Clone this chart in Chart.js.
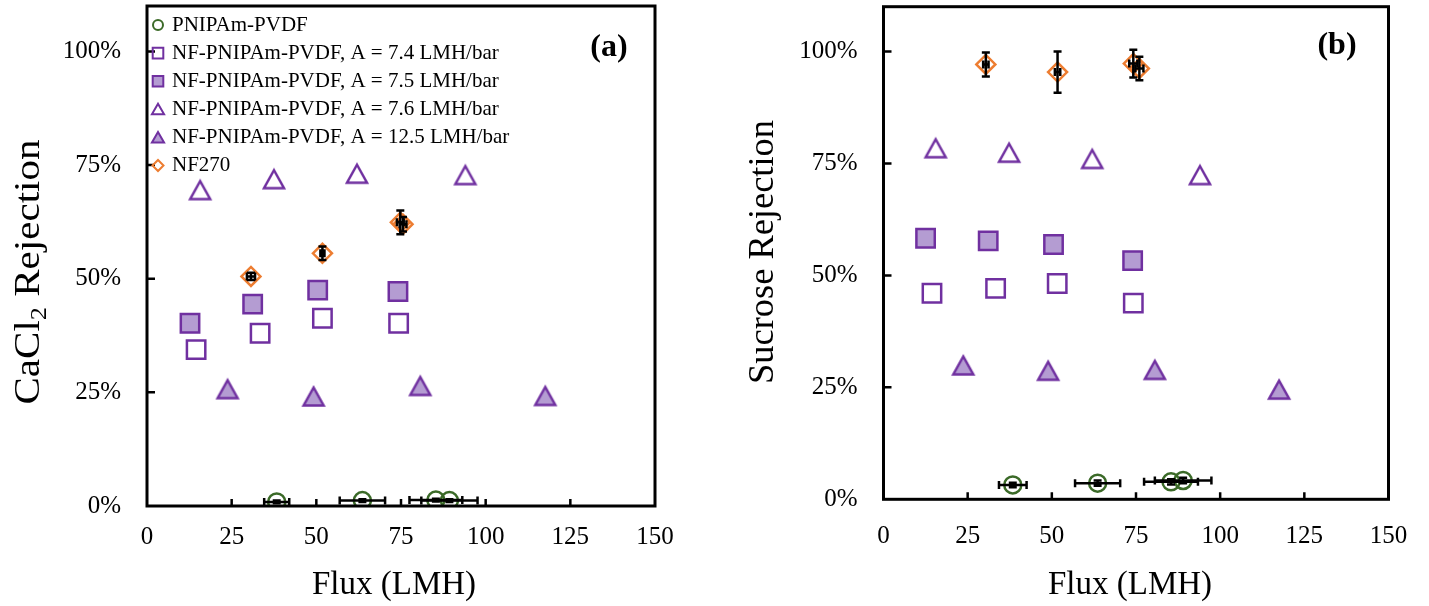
<!DOCTYPE html>
<html>
<head>
<meta charset="utf-8">
<script src="https://cdn.jsdelivr.net/npm/chart.js@4/dist/chart.umd.min.js"></script>
<style>
  html, body { margin: 0; padding: 0; background: #fff; }
  #wrap { position: relative; width: 1429px; height: 606px; overflow: hidden; background: #fff; }
  .pane { position: absolute; top: 0; }
  #pa { left: 0; }
  #pb { left: 710px; }
  canvas { display: block; }
</style>
</head>
<body>
<div id="wrap">
  <div class="pane" id="pa"><canvas id="ca" width="700" height="606"></canvas></div>
  <div class="pane" id="pb"><canvas id="cb" width="719" height="606"></canvas></div>
</div>
<script>
const FONT = "'Liberation Serif', 'Times New Roman', serif";
const GREEN = '#3b6a28';
const PURPLE = '#7030a0';
const LILAC = '#b49cd2';
const ORANGE = '#ed7d31';
const NONE = 'rgba(0,0,0,0)';

// Axis ticks
const fluxTicks = [0, 25, 50, 75, 100, 125, 150];
const rejectionTicks = [0, 25, 50, 75, 100];

// Series names
const seriesLabels = [
  'PNIPAm-PVDF',
  'NF-PNIPAm-PVDF, A = 7.4 LMH/bar',
  'NF-PNIPAm-PVDF, A = 7.5 LMH/bar',
  'NF-PNIPAm-PVDF, A = 7.6 LMH/bar',
  'NF-PNIPAm-PVDF, A = 12.5 LMH/bar',
  'NF270'
];

// (a) CaCl2 rejection (%) vs flux (LMH)
const caPvdfFlux    = [38.3, 63.6, 85.3, 89.3];
const caPvdfRej     = [0.9, 1.2, 1.3, 1.2];
const caPvdfFluxErr = [3.7, 6.7, 7.8, 8.3];
const caPvdfRejErr  = [0.3, 0.3, 0.3, 0.3];
const ca74Flux      = [14.5, 33.4, 51.8, 74.3];
const ca74Rej       = [34.4, 38.0, 41.3, 40.2];
const ca75Flux      = [12.7, 31.2, 50.4, 74.1];
const ca75Rej       = [40.2, 44.4, 47.5, 47.2];
const ca76Flux      = [15.7, 37.5, 62.0, 94.0];
const ca76Rej       = [69.5, 71.9, 73.1, 72.8];
const ca125Flux     = [23.8, 49.2, 80.7, 117.6];
const ca125Rej      = [25.7, 24.1, 26.4, 24.2];
const caNfFlux      = [30.7, 51.8, 74.8, 75.6];
const caNfRej       = [50.5, 55.6, 62.4, 62.0];
const caNfFluxErr   = [1.2, 0.6, 1.0, 1.0];
const caNfRejErr    = [0.8, 1.5, 2.6, 1.6];

// (b) Sucrose rejection (%) vs flux (LMH)
const suPvdfFlux    = [38.4, 63.6, 85.4, 89.0];
const suPvdfRej     = [3.2, 3.6, 3.9, 4.2];
const suPvdfFluxErr = [4.1, 6.7, 8.0, 8.4];
const suPvdfRejErr  = [0.5, 0.6, 0.6, 0.6];
const su74Flux      = [14.4, 33.3, 51.6, 74.2];
const su74Rej       = [46.0, 47.1, 48.2, 43.8];
const su75Flux      = [12.5, 31.1, 50.5, 74.0];
const su75Rej       = [58.3, 57.7, 56.9, 53.3];
const su76Flux      = [15.5, 37.3, 62.0, 94.0];
const su76Rej       = [78.4, 77.4, 76.0, 72.4];
const su125Flux     = [23.7, 48.9, 80.6, 117.5];
const su125Rej      = [29.9, 28.7, 28.9, 24.5];
const suNfFlux      = [30.4, 51.7, 74.2, 76.0];
const suNfRej       = [97.1, 95.4, 97.3, 96.2];
const suNfFluxErr   = [0.8, 0.8, 1.2, 1.2];
const suNfRejErr    = [2.7, 4.6, 3.1, 2.6];

const pts = (xs, ys) => xs.map((x, i) => ({ x, y: ys[i] }));

// Triangle glyph centred on its bounding box (used as a point style image)
function triangleGlyph(fill, stroke) {
  const c = document.createElement('canvas');
  c.width = 28; c.height = 25;
  const g = c.getContext('2d');
  g.beginPath();
  g.moveTo(14, 3.5);
  g.lineTo(24, 21.5);
  g.lineTo(4, 21.5);
  g.closePath();
  g.fillStyle = fill;
  g.fill();
  g.lineWidth = 2.5;
  g.lineJoin = 'miter';
  g.strokeStyle = stroke;
  g.stroke();
  return c;
}
const openTriangle = triangleGlyph('#ffffff', PURPLE);
const filledTriangle = triangleGlyph(LILAC, PURPLE);

function buildDatasets(s) {
  return [
    { label: seriesLabels[0], data: pts(s.pvdf[0], s.pvdf[1]), errX: s.pvdf[2], errY: s.pvdf[3],
      pointStyle: 'circle', pointRadius: 8.5, borderColor: GREEN, backgroundColor: NONE, borderWidth: 2.5 },
    { label: seriesLabels[1], data: pts(s.a74[0], s.a74[1]),
      pointStyle: 'rect', pointRadius: 13, borderColor: PURPLE, backgroundColor: NONE, borderWidth: 2.5 },
    { label: seriesLabels[2], data: pts(s.a75[0], s.a75[1]),
      pointStyle: 'rect', pointRadius: 13, borderColor: PURPLE, backgroundColor: LILAC, borderWidth: 2.5 },
    { label: seriesLabels[3], data: pts(s.a76[0], s.a76[1]),
      pointStyle: openTriangle, legendStyle: 'triangle', pointRadius: 11.5,
      borderColor: PURPLE, backgroundColor: NONE, borderWidth: 2.5 },
    { label: seriesLabels[4], data: pts(s.a125[0], s.a125[1]),
      pointStyle: filledTriangle, legendStyle: 'triangle', pointRadius: 11.5,
      borderColor: PURPLE, backgroundColor: LILAC, borderWidth: 2.5 },
    { label: seriesLabels[5], data: pts(s.nf[0], s.nf[1]), errX: s.nf[2], errY: s.nf[3],
      pointStyle: 'rectRot', pointRadius: 9.5, borderColor: ORANGE, backgroundColor: NONE, borderWidth: 2.5 }
  ];
}

// Box frame with inward tick marks
const framePlugin = {
  id: 'frame',
  afterDatasetsDraw(chart) {
    const { ctx, chartArea: a, scales: { x, y } } = chart;
    ctx.save();
    ctx.strokeStyle = '#000';
    ctx.lineWidth = 2.5;
    ctx.beginPath();
    x.ticks.forEach(t => {
      if (t.value <= x.min || t.value >= x.max) return;
      const px = x.getPixelForValue(t.value);
      ctx.moveTo(px, a.bottom); ctx.lineTo(px, a.bottom - 7);
    });
    y.ticks.forEach(t => {
      if (t.value <= y.min || t.value >= y.max) return;
      const py = y.getPixelForValue(t.value);
      ctx.moveTo(a.left, py); ctx.lineTo(a.left + 8, py);
    });
    ctx.stroke();
    ctx.lineWidth = 3;
    ctx.strokeRect(a.left, a.top, a.right - a.left, a.bottom - a.top);
    ctx.restore();
  }
};

// Standard-deviation whiskers in both directions
const errorBarPlugin = {
  id: 'errorBars',
  afterDatasetsDraw(chart) {
    const { ctx, scales: { x, y } } = chart;
    const cap = 4;
    ctx.save();
    ctx.strokeStyle = '#000';
    ctx.lineWidth = 2.5;
    chart.data.datasets.forEach(ds => {
      if (!ds.errX && !ds.errY) return;
      ds.data.forEach((p, i) => {
        const px = x.getPixelForValue(p.x);
        const py = y.getPixelForValue(p.y);
        ctx.beginPath();
        if (ds.errX) {
          const x0 = x.getPixelForValue(p.x - ds.errX[i]);
          const x1 = x.getPixelForValue(p.x + ds.errX[i]);
          ctx.moveTo(x0, py); ctx.lineTo(x1, py);
          ctx.moveTo(x0, py - cap); ctx.lineTo(x0, py + cap);
          ctx.moveTo(x1, py - cap); ctx.lineTo(x1, py + cap);
        }
        if (ds.errY) {
          const y0 = y.getPixelForValue(p.y - ds.errY[i]);
          const y1 = y.getPixelForValue(p.y + ds.errY[i]);
          ctx.moveTo(px, y0); ctx.lineTo(px, y1);
          ctx.moveTo(px - cap, y0); ctx.lineTo(px + cap, y0);
          ctx.moveTo(px - cap, y1); ctx.lineTo(px + cap, y1);
        }
        ctx.stroke();
      });
    });
    ctx.restore();
  }
};

// Legend drawn as a column in the upper-left of the plot
const legendRadius = { circle: 5, rect: 7.5, triangle: 7, rectRot: 5.5 };
const insetLegendPlugin = {
  id: 'insetLegend',
  afterDraw(chart, args, opts) {
    if (!opts || !opts.display) return;
    const ctx = chart.ctx;
    ctx.save();
    chart.data.datasets.forEach((ds, i) => {
      const cy = opts.top + i * opts.rowHeight;
      const style = ds.legendStyle || ds.pointStyle;
      ctx.fillStyle = ds.backgroundColor;
      ctx.strokeStyle = ds.borderColor;
      ctx.lineWidth = 2;
      Chart.helpers.drawPoint(ctx, {
        pointStyle: style, rotation: 0,
        radius: legendRadius[style], borderWidth: 2
      }, opts.markerX, style === 'triangle' ? cy + 1.5 : cy);
      ctx.fillStyle = '#000';
      ctx.font = `${opts.fontSize}px ${FONT}`;
      ctx.textAlign = 'left';
      ctx.textBaseline = 'middle';
      ctx.fillText(ds.label, opts.textX, cy);
    });
    ctx.restore();
  }
};

// Axis titles and panel tags, with optional subscript runs
const textPlugin = {
  id: 'textLayer',
  afterDraw(chart, args, opts) {
    const ctx = chart.ctx;
    (opts.items || []).forEach(item => {
      ctx.save();
      ctx.translate(item.x, item.y);
      if (item.rotate) ctx.rotate(item.rotate);
      if (item.stretch) ctx.scale(item.stretch, 1);
      ctx.fillStyle = '#000';
      ctx.textAlign = 'left';
      ctx.textBaseline = item.baseline || 'alphabetic';
      let total = 0;
      const runs = item.runs.map(r => {
        ctx.font = `${r.weight || 'normal'} ${r.size}px ${FONT}`;
        const w = ctx.measureText(r.text).width;
        total += w;
        return Object.assign({ w }, r);
      });
      let cx = -total / 2;
      runs.forEach(r => {
        ctx.font = `${r.weight || 'normal'} ${r.size}px ${FONT}`;
        ctx.fillText(r.text, cx, r.dy || 0);
        cx += r.w;
      });
      ctx.restore();
    });
  }
};

function makeChart(canvasId, series, geom, textItems, legendOpts) {
  return new Chart(document.getElementById(canvasId), {
    type: 'scatter',
    data: { datasets: buildDatasets(series) },
    options: {
      responsive: false,
      animation: false,
      events: [],
      layout: { autoPadding: false, padding: { top: geom.top, right: geom.right, left: 0, bottom: 0 } },
      scales: {
        x: {
          type: 'linear', min: 0, max: 150,
          afterBuildTicks: s => { s.ticks = fluxTicks.map(v => ({ value: v })); },
          afterFit: s => { s.height = geom.xHeight; s.paddingLeft = 0; s.paddingRight = 0; },
          grid: { display: false, drawTicks: false },
          border: { display: false },
          ticks: { color: '#000', font: { family: FONT, size: 25 }, padding: geom.xPad, maxRotation: 0 }
        },
        y: {
          type: 'linear', min: 0, max: 110,
          afterBuildTicks: s => { s.ticks = rejectionTicks.map(v => ({ value: v })); },
          afterFit: s => { s.width = geom.yWidth; s.paddingTop = 0; s.paddingBottom = 0; },
          grid: { display: false, drawTicks: false },
          border: { display: false },
          ticks: { color: '#000', font: { family: FONT, size: 25 }, padding: 26,
                   callback: v => v + '%' }
        }
      },
      plugins: {
        legend: { display: false },
        tooltip: { enabled: false },
        insetLegend: legendOpts,
        textLayer: { items: textItems }
      }
    },
    plugins: [framePlugin, errorBarPlugin, insetLegendPlugin, textPlugin]
  });
}

makeChart('ca', {
  pvdf: [caPvdfFlux, caPvdfRej, caPvdfFluxErr, caPvdfRejErr],
  a74: [ca74Flux, ca74Rej], a75: [ca75Flux, ca75Rej],
  a76: [ca76Flux, ca76Rej], a125: [ca125Flux, ca125Rej],
  nf: [caNfFlux, caNfRej, caNfFluxErr, caNfRejErr]
}, { top: 6, right: 45, xHeight: 100, yWidth: 147, xPad: 16 }, [
  { x: 394, y: 594, runs: [{ text: 'Flux (LMH)', size: 33 }] },
  { x: 38.5, y: 272, rotate: -Math.PI / 2, stretch: 1.14, runs: [
    { text: 'CaCl', size: 36 }, { text: '2', size: 23, dy: 7 }, { text: ' Rejection', size: 36 }
  ] },
  { x: 609, y: 48, baseline: 'middle', runs: [{ text: '(a)', size: 32, weight: 'bold' }] }
], { display: true, top: 25, rowHeight: 28.1, markerX: 158, textX: 172, fontSize: 21 });

makeChart('cb', {
  pvdf: [suPvdfFlux, suPvdfRej, suPvdfFluxErr, suPvdfRejErr],
  a74: [su74Flux, su74Rej], a75: [su75Flux, su75Rej],
  a76: [su76Flux, su76Rej], a125: [su125Flux, su125Rej],
  nf: [suNfFlux, suNfRej, suNfFluxErr, suNfRejErr]
}, { top: 6.7, right: 40.5, xHeight: 106.7, yWidth: 173.5, xPad: 22 }, [
  { x: 420, y: 594, runs: [{ text: 'Flux (LMH)', size: 33 }] },
  { x: 63, y: 252, rotate: -Math.PI / 2, stretch: 1.04, runs: [{ text: 'Sucrose Rejection', size: 35 }] },
  { x: 627, y: 46, baseline: 'middle', runs: [{ text: '(b)', size: 32, weight: 'bold' }] }
], { display: false });
</script>
</body>
</html>
